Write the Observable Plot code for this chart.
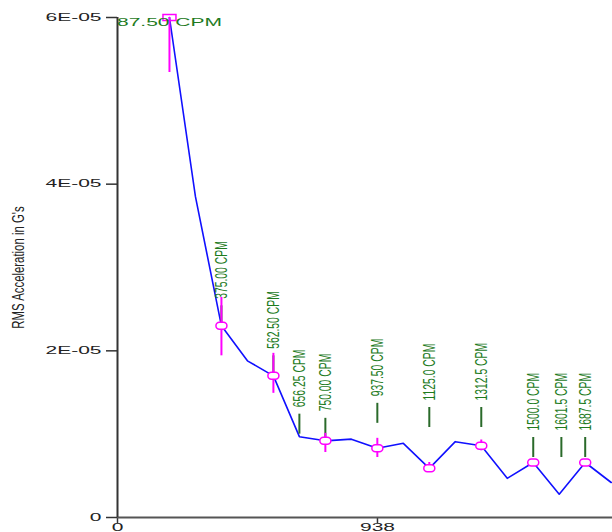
<!DOCTYPE html>
<html>
<head>
<meta charset="utf-8">
<script src="https://cdn.jsdelivr.net/npm/d3@7"></script>
<script src="https://cdn.jsdelivr.net/npm/@observablehq/plot@0.6"></script>
<style>
  html, body { margin: 0; padding: 0; background: white; }
</style>
</head>
<body>
<div id="chart"></div>
<script>
// ---- data ----
const lineCPM = [187.5, 281.25, 375, 468.75, 562.5, 656.25, 750, 843.75, 937.5, 1031.25, 1125, 1218.75, 1312.5, 1406.25, 1500, 1593.75, 1687.5, 1781.25];
const lineRMS = [6.0e-5, 3.85e-5, 2.30e-5, 1.88e-5, 1.70e-5, 0.97e-5, 0.92e-5, 0.94e-5, 0.83e-5, 0.89e-5, 0.59e-5, 0.91e-5, 0.86e-5, 0.47e-5, 0.66e-5, 0.28e-5, 0.66e-5, 0.42e-5];

const peakCPM = [187.5, 375, 562.5, 750, 937.5, 1125, 1312.5, 1500, 1687.5];
const peakRMS = [6.0e-5, 2.30e-5, 1.70e-5, 0.92e-5, 0.83e-5, 0.59e-5, 0.86e-5, 0.66e-5, 0.66e-5];
const errLow  = [5.34e-5, 1.94e-5, 1.49e-5, 0.78e-5, 0.72e-5, 0.54e-5, 0.80e-5, null, null];
const errHigh = [6.0e-5, 2.64e-5, 1.97e-5, 1.01e-5, 0.95e-5, 0.66e-5, 0.93e-5, null, null];

const labelCPM  = [375, 562.5, 656.25, 750, 937.5, 1125, 1312.5, 1500, 1601.5, 1687.5];
const labelText = ["375.00 CPM", "562.50 CPM", "656.25 CPM", "750.00 CPM", "937.50 CPM", "1125.0 CPM", "1312.5 CPM", "1500.0 CPM", "1601.5 CPM", "1687.5 CPM"];
const labelBase = [2.30e-5, 1.70e-5, 1.00e-5, 0.95e-5, 1.13e-5, 1.08e-5, 1.08e-5, 0.72e-5, 0.72e-5, 0.72e-5];

const topLabelCPM = [187.5];
const topLabelRMS = [6.0e-5];
const topLabelText = ["87.50 CPM"];

const yTicks = [0, 2e-5, 4e-5, 6e-5];
const yTickLabels = ["0", "2E-05", "4E-05", "6E-05"];
const xTicks = [0, 938];
const xTickLabels = ["0", "938"];
const yTitle = "RMS Acceleration in G's";

// ---- tables ----
const line = lineCPM.map((x, i) => ({x, y: lineRMS[i]}));
const peaks = peakCPM.map((x, i) => ({x, y: peakRMS[i], lo: errLow[i], hi: errHigh[i]}));
const errs = peaks.filter(d => d.lo != null);
const tickSpan = 2.4e-6; // green leader length expressed in G's
const labels = labelCPM.map((x, i) => ({x, base: labelBase[i], top: labelBase[i] + tickSpan, text: labelText[i]}));
const topLabels = topLabelCPM.map((x, i) => ({x, y: topLabelRMS[i], text: topLabelText[i]}));

const oval = {
  draw(ctx) {
    const h = 3.5, c = 2;
    ctx.moveTo(-c, -h);
    ctx.lineTo(c, -h);
    ctx.arc(c, 0, h, -Math.PI / 2, Math.PI / 2);
    ctx.lineTo(-c, h);
    ctx.arc(-c, 0, h, Math.PI / 2, 3 * Math.PI / 2);
    ctx.closePath();
  }
};
const box = { draw(ctx) { ctx.rect(-6.5, -3, 13, 6); } };

const green = "#1e7b1e";
const magenta = "#ff00ff";

// stretch/squeeze text along its own reading direction (the reference's text is anamorphic)
function squeezeText(sx) {
  return (index, scales, values, dimensions, context, next) => {
    const g = next(index, scales, values, dimensions, context);
    d3.select(g).selectAll("text").each(function () {
      const t = this.getAttribute("transform") || "";
      this.setAttribute("transform", (t + " scale(" + sx + ",1)").trim());
    });
    return g;
  };
}

const svg = Plot.plot({
  width: 612,
  height: 532,
  marginLeft: 117,
  marginRight: 0,
  marginTop: 17,
  marginBottom: 15,
  style: {fontFamily: "'Liberation Sans', Arial, sans-serif", fontSize: "10px", background: "white", color: "#222"},
  x: {domain: [0, 1786], label: null},
  y: {domain: [0, 6e-5], label: null},
  marks: [
    Plot.axisY({ticks: yTicks, tickFormat: d => yTickLabels[yTicks.indexOf(d)], tickSize: 11, tickPadding: 5, label: null, stroke: "#333", strokeWidth: 1.5, fontSize: 10}),
    Plot.axisX({ticks: xTicks, tickFormat: d => xTickLabels[xTicks.indexOf(d)], tickSize: 6, tickPadding: 0, label: null, stroke: "#333", strokeWidth: 1.5, fontSize: 10}),
    Plot.ruleY([0], {stroke: "#555", strokeWidth: 2}),
    Plot.ruleX([0], {stroke: "#333", strokeWidth: 2}),
    Plot.line(line, {x: "x", y: "y", stroke: "#1010ff", strokeWidth: 1.6}),
    Plot.ruleX(labels, {x: "x", y1: "base", y2: "top", stroke: "#2a6a2a", strokeWidth: 2}),
    Plot.ruleX(errs, {x: "x", y1: "lo", y2: "hi", stroke: magenta, strokeWidth: 2}),
    Plot.dot(peaks.slice(1), {x: "x", y: "y", symbol: oval, stroke: magenta, strokeWidth: 1.5, fill: "white"}),
    Plot.dot(peaks.slice(0, 1), {x: "x", y: "y", symbol: box, stroke: magenta, strokeWidth: 1.5, fill: "none"}),
    Plot.text(labels, {x: "x", y: "base", text: "text", rotate: -90, textAnchor: "start", dy: -27, fill: green, fontSize: 17, render: squeezeText(0.61)}),
    Plot.text(topLabels, {x: "x", y: "y", text: "text", textAnchor: "middle", dy: 5, fill: green, fontSize: 10, render: squeezeText(2.1)}),
    Plot.text([yTitle], {frameAnchor: "left", dx: -99, rotate: -90, textAnchor: "middle", fill: "#222", fontSize: 17, render: squeezeText(0.67)})
  ]
});

function stretchAxis(selector, sx) {
  d3.select(svg).selectAll(selector).each(function () {
    const t = this.getAttribute("transform") || "";
    this.setAttribute("transform", (t + " scale(" + sx + ",1)").trim());
  });
}
stretchAxis('g[aria-label="y-axis tick label"] text', 2.1);
stretchAxis('g[aria-label="x-axis tick label"] text', 2.1);

document.getElementById("chart").appendChild(svg);
</script>
</body>
</html>
